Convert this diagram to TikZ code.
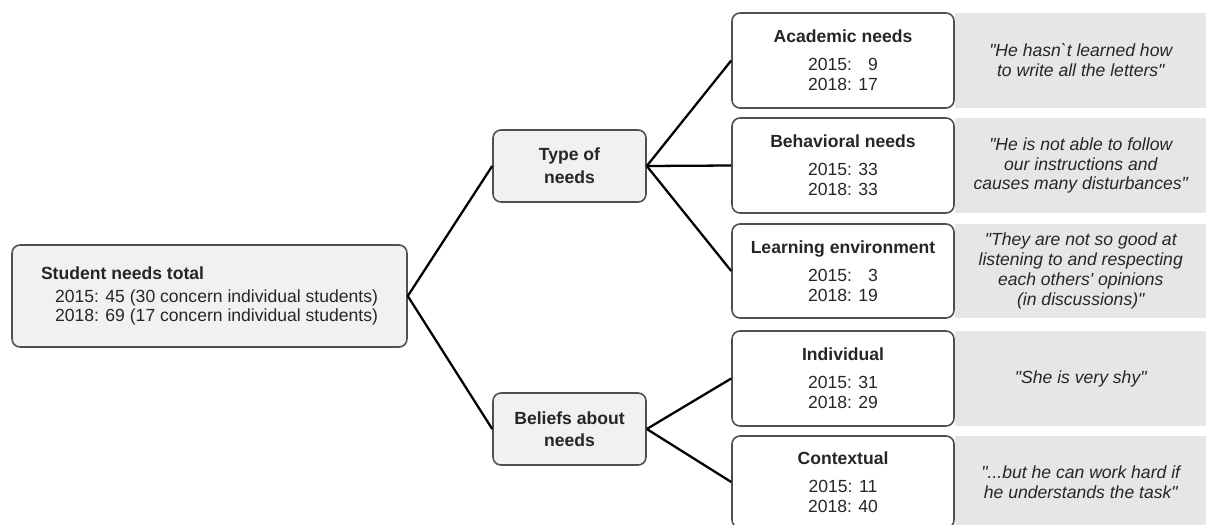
\documentclass[tikz,border=0pt]{standalone}
\usepackage{fontspec}
\setmainfont{Liberation Sans}[Ligatures=TeXOff]
\usepackage{xcolor}
\usetikzlibrary{positioning}

\definecolor{boxline}{HTML}{4F4F4F}
\definecolor{boxfill}{HTML}{F1F1F3}
\definecolor{quotefill}{HTML}{E6E6E8}
\definecolor{txt}{HTML}{262626}

\begin{document}
\begin{tikzpicture}[x=0.02cm, y=-0.02cm,
    box/.style={draw=boxline, line width=0.9pt, rounded corners=4.5pt, align=center,
        inner sep=0pt, text=txt, font=\fontsize{10}{11.3}\selectfont},
    greybox/.style={box, fill=boxfill},
    whitebox/.style={box, fill=white, minimum width=4.44cm},
    quotebox/.style={fill=quotefill, minimum width=5.04cm, align=center, inner sep=0pt,
        outer sep=0pt, text=txt, font=\fontsize{10}{11.3}\selectfont\itshape},
    link/.style={line width=1.3pt, black}]
    \useasboundingbox (0, 0) rectangle (1206, 524);

    % total
    \node[greybox, align=left, minimum width=7.9cm, minimum height=2.04cm] (total) at (209.5, 296)
        {\textbf{Student needs total}\\[1.7pt]
         \hspace{0.28cm}2015: 45 (30 concern individual students)\\
         \hspace{0.28cm}2018: 69 (17 concern individual students)};

    % categories
    \node[greybox, minimum width=3.06cm, minimum height=1.44cm,
        font=\bfseries\fontsize{10}{13}\selectfont] (type) at (569.5, 166) {Type of\\needs};
    \node[greybox, minimum width=3.06cm, minimum height=1.44cm,
        font=\bfseries\fontsize{10}{12.5}\selectfont] (beliefs) at (569.5, 429) {Beliefs about\\needs};

    % type of needs
    \node[whitebox, minimum height=1.9cm] (acad) at (843, 60.5)
        {\textbf{Academic needs}\\[4.5pt]2015: \phantom{1}9\\2018: 17};
    \node[whitebox, minimum height=1.9cm] (behav) at (843, 165.5)
        {\textbf{Behavioral needs}\\[4.5pt]2015: 33\\2018: 33};
    \node[whitebox, minimum height=1.88cm] (learn) at (843, 271)
        {\textbf{Learning environment}\\[4.5pt]2015: \phantom{1}3\\2018: 19};

    % beliefs about needs
    \node[whitebox, minimum height=1.9cm] (indiv) at (843, 378.5)
        {\textbf{Individual}\\[4.5pt]2015: 31\\2018: 29};
    \node[whitebox, minimum height=1.84cm] (context) at (843, 482)
        {\textbf{Contextual}\\[4.5pt]2015: 11\\2018: 40};

    % quotes
    \node[quotebox, minimum height=1.9cm, right=0pt of acad] (qacad)
        {"He hasn`t learned how\\to write all the letters"};
    \node[quotebox, minimum height=1.9cm, right=0pt of behav] (qbehav)
        {"He is not able to follow\\our instructions and\\causes many disturbances"};
    \node[quotebox, minimum height=1.88cm, right=0pt of learn] (qlearn)
        {"They are not so good at\\listening to and respecting\\each others' opinions\\(in discussions)"};
    \node[quotebox, minimum height=1.9cm, right=0pt of indiv] (qindiv)
        {"She is very shy"};
    \node[quotebox, minimum height=1.84cm, right=0pt of context] (qcontext)
        {"...but he can work hard if\\he understands the task"};

    % links
    \draw[link] (total.east) -- (type.west);
    \draw[link] (total.east) -- (beliefs.west);
    \foreach \n in {acad, behav, learn}
        \draw[link] (type.east) -- (\n.west);
    \foreach \n in {indiv, context}
        \draw[link] (beliefs.east) -- (\n.west);
\end{tikzpicture}
\end{document}
